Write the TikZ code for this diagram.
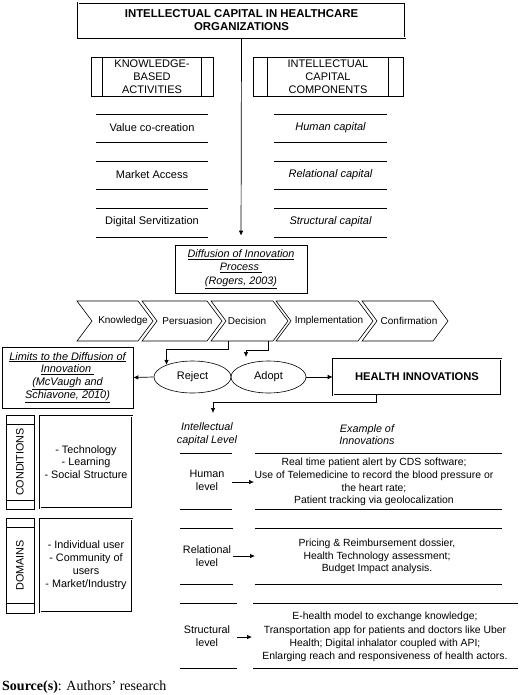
\documentclass[tikz,border=0pt]{standalone}
\usepackage{fontspec}
\setmainfont{Liberation Sans}
\newfontfamily\serifface{Liberation Serif}
\usetikzlibrary{arrows.meta,shapes.geometric}
\tikzset{
  txt/.style={font=\fontsize{10.5}{12.7}\selectfont, align=center, inner sep=0pt},
  listtxt/.style={font=\fontsize{11}{13}\selectfont, align=center, inner sep=0pt},
  txtsm/.style={font=\fontsize{10.4}{12.7}\selectfont, align=center, inner sep=0pt},
  chev/.style={font=\fontsize{10}{11}\selectfont, inner sep=0pt},
  plainbox/.style={draw, line width=0.6pt, inner sep=0pt},
  dbox/.style={draw, double, double distance=1pt, line width=0.55pt, inner sep=0pt},
  ell/.style={draw, ellipse, line width=0.6pt, inner sep=0pt},
  arr/.style={line width=0.7pt, -{Latex[length=5pt,width=4.5pt]}},
  rule/.style={line width=0.7pt},
  chevshape/.style={draw, line width=0.6pt},
}
\begin{document}
\begin{tikzpicture}[x=1pt,y=-1pt]
\useasboundingbox (0,0) rectangle (520,695);

% title
\node[dbox, minimum width=327, minimum height=35, font=\bfseries\fontsize{11.4}{13}\selectfont, align=center] (top) at (241.5,20.5)
  {INTELLECTUAL CAPITAL IN HEALTHCARE\\ORGANIZATIONS};

% process boxes
\node[plainbox, minimum width=122, minimum height=39, font=\fontsize{11}{13}\selectfont, align=center] (kba) at (152,76.5)
  {KNOWLEDGE-\\BASED\\ACTIVITIES};
\draw[line width=0.6pt] ([xshift=12]kba.north west) -- ([xshift=12]kba.south west);
\draw[line width=0.6pt] ([xshift=-12]kba.north east) -- ([xshift=-12]kba.south east);
\node[plainbox, minimum width=150, minimum height=39, font=\fontsize{11}{13}\selectfont, align=center] (icc) at (328,76.5)
  {INTELLECTUAL\\CAPITAL\\COMPONENTS};
\draw[line width=0.6pt] ([xshift=15]icc.north west) -- ([xshift=15]icc.south west);
\draw[line width=0.6pt] ([xshift=-15]icc.north east) -- ([xshift=-15]icc.south east);

% lists
\foreach \ya/\yb in {114/142,161/189,208/237}{
  \draw[rule] (96,\ya) -- (208,\ya);
  \draw[rule] (96,\yb) -- (208,\yb);
  \draw[rule] (274,\ya) -- (387,\ya);
  \draw[rule] (274,\yb) -- (387,\yb);
}
\node[listtxt] (vcc) at (152,128) {Value co-creation};
\node[listtxt] (ma) at (152,175) {Market Access};
\node[listtxt] (ds) at (152,222) {Digital Servitization};
\node[listtxt, font=\itshape\fontsize{11}{13}\selectfont] (hc) at (330.5,128) {Human capital};
\node[listtxt, font=\itshape\fontsize{11}{13}\selectfont] (rc) at (330.5,175) {Relational capital};
\node[listtxt, font=\itshape\fontsize{11}{13}\selectfont] (sc) at (330.5,222) {Structural capital};

% diffusion box
\node[plainbox, minimum width=132, minimum height=48, font=\itshape\fontsize{10.8}{13.5}\selectfont, align=center] (diff) at (241,269)
  {\underline{Diffusion of Innovation}\\\underline{Process\ }\\\underline{(Rogers, 2003)}};
\draw[arr, shorten >=9pt] (top.south) -- (diff.north);

% chevrons
\foreach \l/\r in {77/138,142/207,211/273,276/358,362/433}{
  \draw[chevshape] (\l,301) -- (\r,301) -- (\r+15,321) -- (\r,341) -- (\l,341) -- (\l+15,321) -- cycle;
}
\node[chev] (c1) at (123,321) {Knowledge};
\node[chev] (c2) at (187.5,321) {Persuasion};
\node[chev] (c3) at (247,321) {Decision};
\node[chev] (c4) at (329,321) {Implementation};
\node[chev] (c5) at (409,321) {Confirmation};
\coordinate (dec1) at (228,341);
\coordinate (dec2) at (268,341);
\coordinate (adoin) at (246,357);

% reject / adopt
\node[ell, minimum width=77, minimum height=32, font=\fontsize{11}{13}\selectfont] (rej) at (192.5,377) {Reject};
\node[ell, minimum width=75, minimum height=32, font=\fontsize{11}{13}\selectfont] (ado) at (268.5,377) {Adopt};
\draw[arr] (dec1) -- ++(0,8) -| (rej.155);
\draw[arr] (dec2) -- ++(0,9) -| (adoin);

% limits box
\node[plainbox, minimum width=131, minimum height=61, font=\itshape\fontsize{10.9}{12.8}\selectfont, align=center] (lim) at (67.5,377.5)
  {\underline{Limits to the Diffusion of}\\\underline{Innovation\ }\\\underline{(McVaugh and}\\\underline{Schiavone, 2010)}};
\draw[arr] (rej.west) -- (lim.east);

% health innovations
\node[dbox, minimum width=168, minimum height=36, font=\bfseries\fontsize{11.2}{13}\selectfont] (hi) at (417,377) {HEALTH INNOVATIONS};
\draw[arr] (ado.east) -- (hi.west);
\coordinate (tabin) at (213,413);
\draw[arr] ([xshift=-41]hi.south) -- ++(0,7) -| (tabin);

% conditions
\node[plainbox, minimum width=28, minimum height=94] (condl) at (20,462) {};
\draw[line width=0.6pt] (6,424) -- (34,424);
\draw[line width=0.6pt] (6,500) -- (34,500);
\node[rotate=90, font=\fontsize{10.8}{13}\selectfont, inner sep=0pt] (condt) at (20,462) {CONDITIONS};
\node[dbox, minimum width=92, minimum height=92, txt, font=\fontsize{10.8}{12.7}\selectfont] (cond) at (86,462)
  {- Technology\\- Learning\\- Social Structure};

% domains
\node[plainbox, minimum width=28, minimum height=95] (doml) at (20,565.5) {};
\draw[line width=0.6pt] (6,527) -- (34,527);
\draw[line width=0.6pt] (6,603) -- (34,603);
\node[rotate=90, font=\fontsize{10.8}{13}\selectfont, inner sep=0pt] (domt) at (20,565.5) {DOMAINS};
\node[dbox, minimum width=92, minimum height=93, txt, font=\fontsize{10.8}{13}\selectfont] (dom) at (86,565.5)
  {- Individual user\\- Community of\\users\\- Market/Industry};

% table
\node[txt, font=\itshape\fontsize{10.8}{12.7}\selectfont] (h1) at (207,434.5) {Intellectual\\capital Level};
\node[txt, font=\itshape\fontsize{10.8}{12.7}\selectfont] (h2) at (367,434.5) {Example of\\Innovations};

\draw[rule] (180,453) -- (232,453);  \draw[rule] (255,453) -- (502,453);
\draw[rule] (180,509) -- (232,509);  \draw[rule] (255,509) -- (502,509);
\draw[rule] (180,528) -- (233,528);  \draw[rule] (255,528) -- (502,528);
\draw[rule] (180,584) -- (233,584);  \draw[rule] (255,584) -- (502,584);
\draw[rule] (180,603) -- (237,603);  \draw[rule] (253,603) -- (518,603);
\draw[rule] (180,668) -- (237,668);  \draw[rule] (253,668) -- (518,668);

\node[txt, font=\fontsize{10.8}{13}\selectfont] (hl) at (207,480.5) {Human\\level};
\node[txtsm] (ex1) at (374,482) {Real time patient alert by CDS software;\\Use of Telemedicine to record the blood pressure or\\the heart rate;\\Patient tracking via geolocalization};
\coordinate (a1s) at (232,482); \coordinate (a1e) at (254,482);
\draw[arr] (a1s) -- (a1e);

\node[txt, font=\fontsize{10.8}{13}\selectfont] (rl) at (207,556) {Relational\\level};
\node[txtsm] (ex2) at (377,556.5) {Pricing \& Reimbursement dossier,\\Health Technology assessment;\\Budget Impact analysis.};
\coordinate (a2s) at (233,556); \coordinate (a2e) at (255,556);
\draw[arr] (a2s) -- (a2e);

\node[txt, font=\fontsize{10.8}{13}\selectfont] (sl) at (207,636.5) {Structural\\level};
\node[txtsm, font=\fontsize{10.4}{13.2}\selectfont] (ex3) at (385,637) {E-health model to exchange knowledge;\\Transportation app for patients and doctors like Uber\\Health; Digital inhalator coupled with API;\\Enlarging reach and responsiveness of health actors.};
\coordinate (a3s) at (237,637); \coordinate (a3e) at (252,637);
\draw[arr] (a3s) -- (a3e);

% source
\node[anchor=west, inner sep=0pt, font=\serifface\fontsize{14}{16}\selectfont] (src) at (2,687) {\textbf{Source(s)}: Authors’ research};
\end{tikzpicture}
\end{document}
